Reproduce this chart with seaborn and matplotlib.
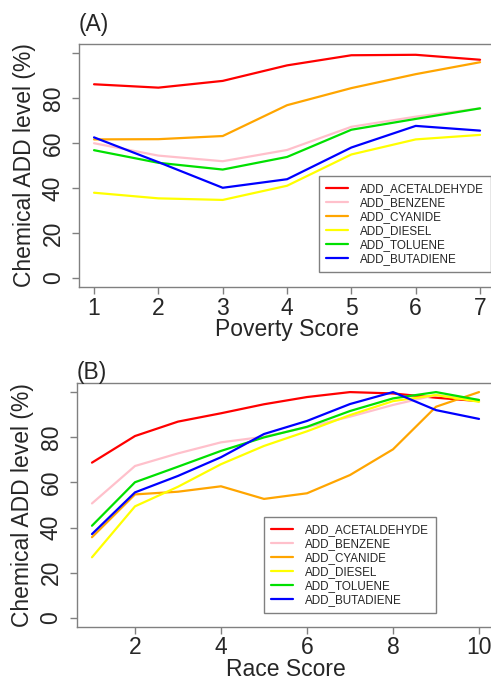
import numpy as np
import pandas as pd
import matplotlib
matplotlib.use("Agg")
import matplotlib.pyplot as plt
import seaborn as sns

sns.set_style("white")
plt.rcParams['font.family'] = ['Liberation Sans', 'DejaVu Sans']

chemicals = ["ADD_ACETALDEHYDE", "ADD_BENZENE", "ADD_CYANIDE",
             "ADD_DIESEL", "ADD_TOLUENE", "ADD_BUTADIENE"]
colors = ["#FF0000", "#FFC0CB", "#FFA500", "#FFFF00", "#00E000", "#0000FF"]

poverty_x = [1, 2, 3, 4, 5, 6, 7]
pov_acetaldehyde = [86.1, 84.6, 87.6, 94.5, 99.0, 99.2, 97.0]
pov_benzene = [59.9, 54.4, 51.9, 56.9, 67.2, 71.7, 75.4]
pov_cyanide = [61.6, 61.7, 63.1, 76.8, 84.4, 90.6, 95.9]
pov_diesel = [37.9, 35.4, 34.7, 41.0, 54.9, 61.6, 63.6]
pov_toluene = [56.8, 51.2, 48.2, 53.8, 65.9, 70.7, 75.4]
pov_butadiene = [62.5, 51.5, 40.1, 43.9, 58.0, 67.6, 65.5]

race_x = [1, 2, 3, 4, 5, 6, 7, 8, 9, 10]
race_acetaldehyde = [68.8, 80.6, 87.0, 90.7, 94.7, 97.9, 100.1, 99.5, 97.6, 96.1]
race_benzene = [50.7, 67.3, 72.9, 77.8, 80.3, 84.5, 89.2, 94.4, 98.8, 96.6]
race_cyanide = [35.7, 54.7, 55.9, 58.3, 52.7, 55.2, 63.3, 74.7, 93.6, 100.1]
race_diesel = [26.8, 49.4, 58.1, 68.1, 76.2, 82.7, 89.9, 96.1, 98.8, 95.8]
race_toluene = [40.8, 60.1, 67.0, 74.0, 80.0, 84.7, 91.7, 97.3, 100.1, 96.6]
race_butadiene = [37.1, 55.6, 62.9, 71.2, 81.5, 87.3, 94.8, 100.1, 92.1, 88.2]

y_ticks = [0, 20, 40, 60, 80, 100]
y_ticklabels = ["0", "20", "40", "60", "80", ""]


def long_df(x, series):
    rows = []
    for name, vals in zip(chemicals, series):
        for xi, v in zip(x, vals):
            rows.append({"x": xi, "value": v, "chemical": name})
    return pd.DataFrame(rows)


df_pov = long_df(poverty_x, [pov_acetaldehyde, pov_benzene, pov_cyanide,
                             pov_diesel, pov_toluene, pov_butadiene])
df_race = long_df(race_x, [race_acetaldehyde, race_benzene, race_cyanide,
                           race_diesel, race_toluene, race_butadiene])

W, H = 491, 681
fig = plt.figure(figsize=(W / 100, H / 100), dpi=100)
palette = dict(zip(chemicals, colors))
gray = "#808080"
FS = 16.5


def px_axes(l, t, r, b):
    return fig.add_axes([l / W, 1 - b / H, (r - l) / W, (b - t) / H])


def style(ax, xmin, xmax, xticks, xlabel, title, title_pad, leg_xy):
    ax.set_xlim(xmin - 0.04 * (xmax - xmin), xmax + 0.04 * (xmax - xmin))
    ax.set_ylim(-4, 104)
    ax.set_xticks(xticks)
    ax.set_xticklabels([str(t) for t in xticks], fontsize=FS)
    ax.set_yticks(y_ticks)
    ax.set_yticklabels(y_ticklabels, fontsize=FS, rotation=90, va="center")
    for s in ax.spines.values():
        s.set_color(gray)
        s.set_linewidth(1.0)
    ax.tick_params(axis="both", direction="out", length=5, width=1.0, color=gray,
                   bottom=True, left=True)
    ax.tick_params(axis="x", pad=2)
    ax.tick_params(axis="y", pad=5)
    ax.set_xlabel(xlabel, fontsize=FS, labelpad=-1)
    ax.set_ylabel("Chemical ADD level (%)", fontsize=FS, labelpad=4)
    ax.set_title(title, fontsize=FS, loc="left", x=0.0, pad=title_pad)
    leg = ax.legend(loc="upper left", bbox_to_anchor=(leg_xy[0] / W, 1 - leg_xy[1] / H),
                    bbox_transform=fig.transFigure, fontsize=8.4, frameon=True,
                    fancybox=False, edgecolor=gray, framealpha=1, handlelength=1.9,
                    handletextpad=1.0, labelspacing=0.17, borderpad=0.6,
                    borderaxespad=0)
    leg.get_frame().set_linewidth(1.0)
    for line in leg.get_lines():
        line.set_linewidth(1.6)


ax1 = px_axes(78.6, 44, 495.5, 287)
sns.lineplot(data=df_pov, x="x", y="value", hue="chemical", palette=palette,
             hue_order=chemicals, linewidth=1.6, ax=ax1)
style(ax1, 1, 7, poverty_x, "Poverty Score", "(A)", 9, (319, 176))

ax2 = px_axes(76.5, 383.3, 494.5, 626.7)
sns.lineplot(data=df_race, x="x", y="value", hue="chemical", palette=palette,
             hue_order=chemicals, linewidth=1.6, ax=ax2)
style(ax2, 1, 10, [2, 4, 6, 8, 10], "Race Score", "(B)", 3, (264, 517))

fig.savefig("out.png", dpi=100)
